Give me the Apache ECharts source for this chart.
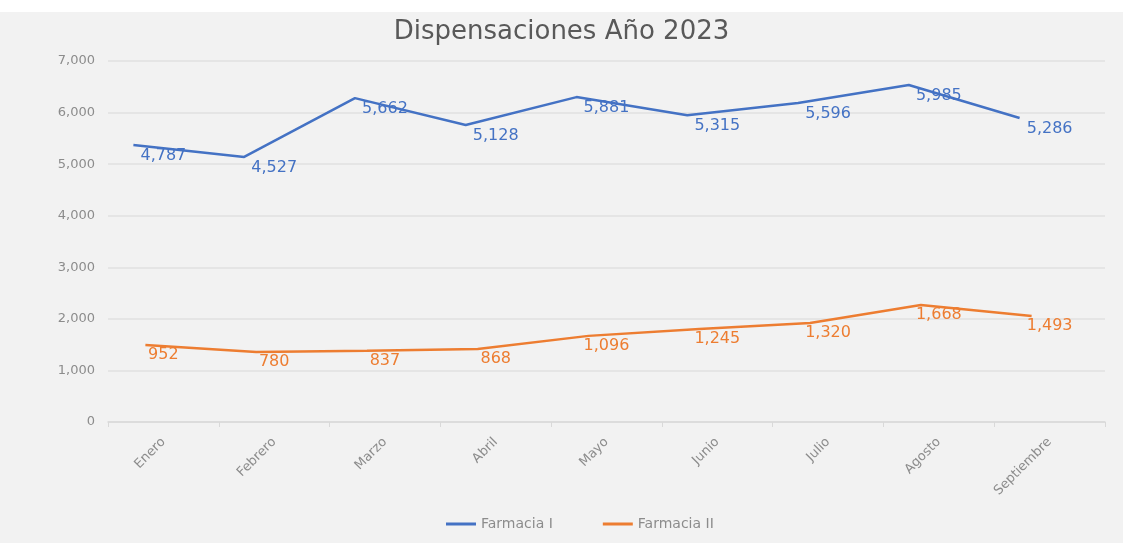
<!DOCTYPE html>
<html>
<head>
<meta charset="utf-8">
<title>Dispensaciones Año 2023</title>
<script src="https://cdn.jsdelivr.net/npm/echarts@6/dist/echarts.min.js"></script>
<style>
  html, body { margin: 0; padding: 0; background: #ffffff; }
  #chart { width: 1123px; height: 543px; }
</style>
</head>
<body>
<div id="chart"></div>
<script>
// meses
const meses = ['Enero', 'Febrero', 'Marzo', 'Abril', 'Mayo', 'Junio', 'Julio', 'Agosto', 'Septiembre'];
// valores dibujados de cada línea
const farmacia1 = [5370, 5140, 6280, 5760, 6300, 5950, 6185, 6535, 5895];
const farmacia2 = [1495, 1355, 1380, 1415, 1670, 1805, 1920, 2270, 2055];
// etiquetas de datos tal como aparecen
const etiquetas1 = ['4,787', '4,527', '5,662', '5,128', '5,881', '5,315', '5,596', '5,985', '5,286'];
const etiquetas2 = ['952', '780', '837', '868', '1,096', '1,245', '1,320', '1,668', '1,493'];
// eje y
const yTicks = [0, 1000, 2000, 3000, 4000, 5000, 6000, 7000];

const azul = '#4472c4';
const naranja = '#ed7d31';
const gris = '#8c8c8c';
const fuente = 'DejaVu Sans';

window.onload = function () {
  init();
};

function init() {
  const chart = echarts.init(document.getElementById('chart'));
  const yMax = yTicks[yTicks.length - 1];

  // ejes ocultos para las dos líneas (desplazadas como en la imagen)
  const hiddenX = {
    type: 'category',
    data: meses,
    boundaryGap: true,
    show: false,
  };
  const hiddenY = {
    type: 'value',
    min: 0,
    max: yMax,
    interval: 1000,
    show: false,
  };

  const option = {
    backgroundColor: '#f2f2f2',
    animation: false,
    textStyle: { fontFamily: fuente },
    graphic: [{
      type: 'rect',
      left: 0,
      top: 0,
      shape: { width: 1123, height: 12 },
      style: { fill: '#ffffff' },
      silent: true,
    }],
    title: {
      text: 'Dispensaciones Año 2023',
      left: 'center',
      top: 14,
      textStyle: {
        fontFamily: fuente,
        fontSize: 26,
        fontWeight: 'normal',
        color: '#595959',
      },
    },
    legend: {
      bottom: 7,
      left: 441,
      icon: 'rect',
      itemWidth: 30,
      itemHeight: 3,
      itemGap: 50,
      textStyle: { fontFamily: fuente, fontSize: 14, color: gris },
      data: ['Farmacia I', 'Farmacia II'],
    },
    grid: [
      { left: 108, right: 18, top: 61, bottom: 121 },
      { left: 78, right: 48, top: 61, bottom: 121 },
      { left: 90, right: 36, top: 61, bottom: 121 },
    ],
    xAxis: [
      {
        type: 'category',
        data: meses,
        gridIndex: 0,
        boundaryGap: true,
        axisLine: { lineStyle: { color: '#d9d9d9', width: 1.5 } },
        axisTick: { show: true, length: 5, lineStyle: { color: '#d9d9d9' } },
        axisLabel: {
          rotate: 45,
          color: gris,
          fontSize: 13,
          fontFamily: fuente,
          margin: 18,
        },
      },
      Object.assign({ gridIndex: 1 }, hiddenX),
      Object.assign({ gridIndex: 2 }, hiddenX),
    ],
    yAxis: [
      {
        type: 'value',
        gridIndex: 0,
        min: 0,
        max: yMax,
        interval: 1000,
        axisLine: { show: false },
        axisTick: { show: false },
        splitLine: { lineStyle: { color: '#e0e0e0', width: 1.5 } },
        axisLabel: {
          color: gris,
          fontSize: 13,
          fontFamily: fuente,
          margin: 13,
          formatter: v => v.toLocaleString('en-US'),
        },
      },
      Object.assign({ gridIndex: 1 }, hiddenY),
      Object.assign({ gridIndex: 2 }, hiddenY),
    ],
    series: [
      {
        name: 'Farmacia I',
        type: 'line',
        xAxisIndex: 1,
        yAxisIndex: 1,
        data: farmacia1,
        symbol: 'circle',
        symbolSize: 0,
        showSymbol: true,
        lineStyle: { color: azul, width: 2.5 },
        itemStyle: { color: azul },
        label: {
          show: true,
          position: 'bottom',
          distance: 3,
          offset: [30, 0],
          color: azul,
          fontSize: 16,
          fontFamily: fuente,
          formatter: p => etiquetas1[p.dataIndex],
        },
      },
      {
        name: 'Farmacia II',
        type: 'line',
        xAxisIndex: 2,
        yAxisIndex: 2,
        data: farmacia2,
        symbol: 'circle',
        symbolSize: 0,
        showSymbol: true,
        lineStyle: { color: naranja, width: 2.5 },
        itemStyle: { color: naranja },
        label: {
          show: true,
          position: 'bottom',
          distance: 2,
          offset: [18, 0],
          color: naranja,
          fontSize: 16,
          fontFamily: fuente,
          formatter: p => etiquetas2[p.dataIndex],
        },
      },
    ],
  };

  chart.setOption(option);
}
</script>
</body>
</html>
